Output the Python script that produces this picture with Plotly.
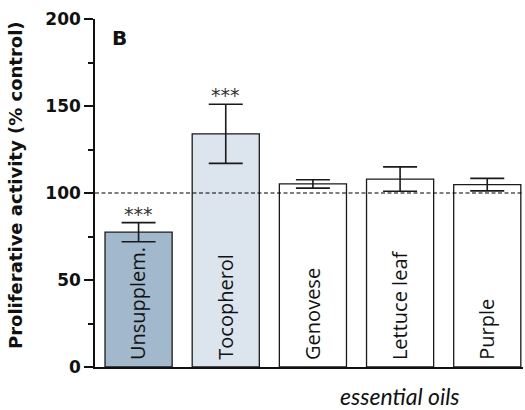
import plotly.graph_objects as go

categories = ["Unsupplem.", "Tocopherol", "Genovese", "Lettuce leaf", "Purple"]
values = [77.5, 134, 105.2, 108, 104.8]
errors = [5.5, 17, 2.4, 7, 3.6]
significance = ["***", "***", "", "", ""]
bar_colors = ["#a2b8cd", "#dce5ed", "#ffffff", "#ffffff", "#ffffff"]
y_ticks = [0, 50, 100, 150, 200]
y_minor_ticks = [25, 75, 125, 175]

fig = go.Figure()
fig.add_trace(go.Bar(
    x=categories, y=values,
    width=0.77,
    marker=dict(color=bar_colors, line=dict(color="#1a1a1a", width=1.3)),
    error_y=dict(type="data", array=errors, visible=True, color="#1a1a1a",
                 thickness=1.6, width=17),
    showlegend=False,
))

for c in categories:
    fig.add_annotation(x=c, y=0, text=c, showarrow=False, textangle=-90,
                       xanchor="center", yanchor="bottom", yshift=5, xshift=-1,
                       font=dict(family="Open Sans", size=20, color="#111111"))

for c, v, e, s in zip(categories, values, errors, significance):
    if s:
        fig.add_annotation(x=c, y=v + e, text=s, showarrow=False,
                           yanchor="bottom", yshift=-4,
                           font=dict(family="DejaVu Sans", size=19, color="#333333"))

fig.add_shape(type="line", xref="paper", yref="y", x0=0, x1=1, y0=100, y1=100,
              line=dict(color="#000000", width=1.2, dash="4px,2.5px"))

fig.add_annotation(xref="paper", yref="paper", x=0.035, y=0.944, text="<b>B</b>",
                   showarrow=False, xanchor="left", yanchor="middle",
                   font=dict(family="DejaVu Sans", size=20, color="#111111"))

fig.add_annotation(xref="x", yref="paper", x=3, y=-0.083, text="<i>essential oils</i>",
                   showarrow=False, xanchor="center", yanchor="middle",
                   font=dict(family="Lato", size=23, color="#111111"))

fig.add_annotation(xref="paper", yref="paper", x=-0.1846, y=0.523,
                   text="<b>Proliferative activity (% control)</b>", textangle=-90,
                   showarrow=False, xanchor="center", yanchor="middle",
                   font=dict(family="DejaVu Sans", size=18, color="#111111"))

fig.update_layout(
    width=525, height=410,
    margin=dict(l=95, r=2, t=19, b=43),
    plot_bgcolor="white", paper_bgcolor="white",
)
fig.update_xaxes(range=[-0.5, 4.41], showline=True, linecolor="#111111", linewidth=1.5,
                 showticklabels=False, ticks="", showgrid=False, zeroline=False)
fig.update_yaxes(range=[0, 200], tickvals=y_ticks, ticks="outside", ticklen=9, tickwidth=1.5,
                 tickcolor="#111111", showline=True, linecolor="#111111", linewidth=1.5,
                 showgrid=False, zeroline=False,
                 minor=dict(tickvals=y_minor_ticks, ticks="outside", ticklen=5,
                            tickwidth=1.5, tickcolor="#111111"),
                 tickfont=dict(family="DejaVu Sans", size=17, color="#111111", weight="bold"))

fig.write_html("out.html", config={"displayModeBar": False},
               post_script="document.body.style.margin='0';")
